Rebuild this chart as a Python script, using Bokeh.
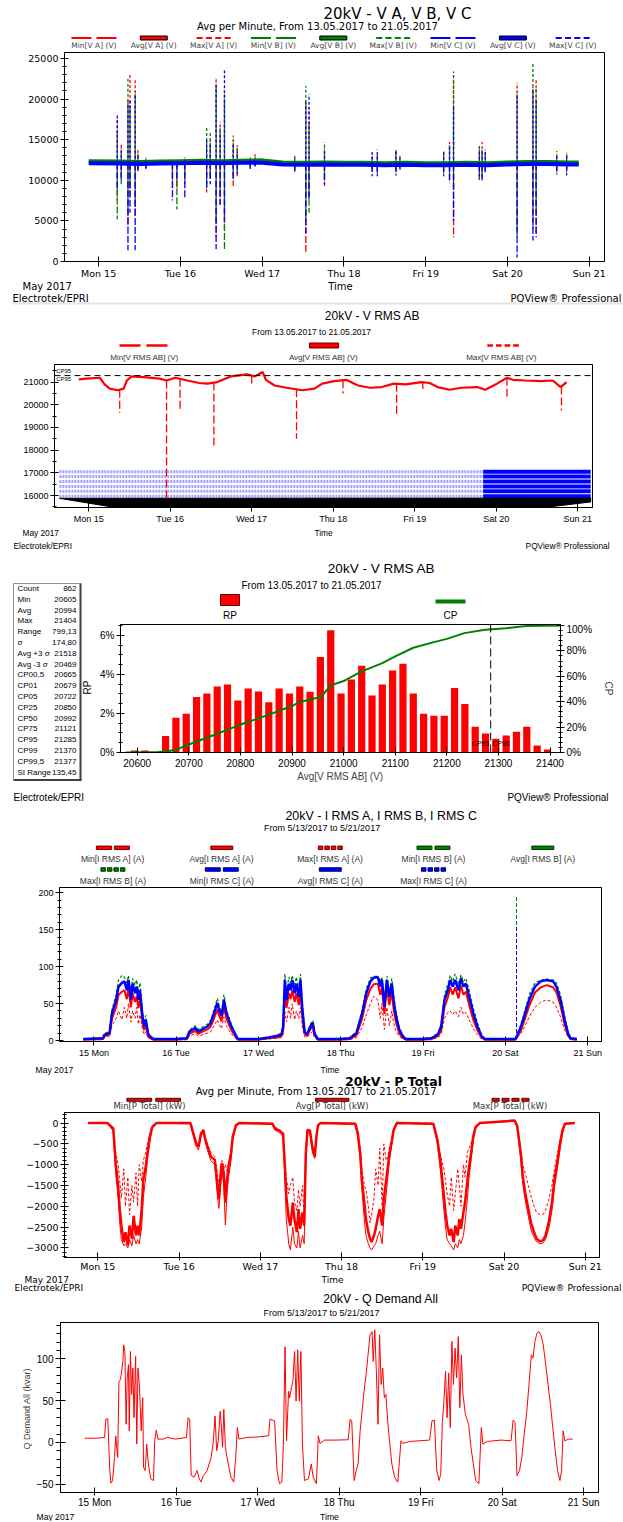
import numpy as np
from bokeh.plotting import figure
from bokeh.models import Range1d, FixedTicker, LinearAxis, Span
from bokeh.layouts import column, row
from bokeh.embed import file_html
from bokeh.resources import INLINE
from bokeh.core.properties import value

VERD = "DejaVu Sans"
ARIAL = "Liberation Sans"
RED, GREEN, BLUE = "#ff0000", "#008000", "#0000ff"
DARK = {RED: "#700000", GREEN: "#003800", BLUE: "#000070"}

# ---------------- shared axis data ----------------
DAY_TICKS = [15, 16, 17, 18, 19, 20, 21]
LABELS_WD = ["Mon 15", "Tue 16", "Wed 17", "Thu 18", "Fri 19", "Sat 20", "Sun 21"]
LABELS_DW = ["15 Mon", "16 Tue", "17 Wed", "18 Thu", "19 Fri", "20 Sat", "21 Sun"]

# ---------------- panel 1 : V A, V B, V C ----------------
V_TICKS = [0, 5000, 10000, 15000, 20000, 25000]
V_BASE_T = [14.88, 15.25, 15.5, 15.75, 16.0, 16.25, 16.5, 16.75, 17.0, 17.25, 17.5, 17.75, 18.0,
            18.25, 18.5, 18.75, 19.0, 19.25, 19.5, 19.75, 20.0, 20.25, 20.5, 20.75, 20.87]
VA_AVG = [12200, 12150, 12100, 12150, 12200, 12250, 12200, 12250, 12300, 12050, 12000, 12050, 12000,
          12000, 11950, 12000, 11950, 11950, 12000, 11950, 12050, 12100, 12100, 12050, 12050]
VB_AVG = [12350, 12300, 12250, 12300, 12350, 12400, 12350, 12400, 12450, 12200, 12150, 12200, 12150,
          12150, 12100, 12150, 12100, 12100, 12150, 12100, 12200, 12250, 12250, 12200, 12200]
VC_AVG = [12100, 12050, 12000, 12050, 12100, 12150, 12100, 12150, 12150, 11950, 11900, 11950, 11900,
          11900, 11850, 11900, 11850, 11850, 11900, 11850, 11950, 12000, 12000, 11950, 11950]
V_SPIKE_T = [15.228, 15.277, 15.359, 15.384, 15.447, 15.481, 15.578, 15.903, 15.957, 16.054, 16.321,
             16.365, 16.437, 16.486, 16.539, 16.646, 16.695, 16.855, 16.913, 17.398, 17.534, 17.573,
             17.762, 18.345, 18.408, 18.636, 18.685, 19.219, 19.291, 19.340, 19.656, 19.689, 19.728,
             20.117, 20.311, 20.350, 20.602, 20.723]
VA_MAX = [17500, 14500, 20000, 23000, 22500, 13700, 12800, 12500, 12400, 12600, 14000, 15000, 22700,
          17200, 21000, 15500, 14300, 12900, 13200, 13000, 20000, 19000, 14000, 13000, 13000, 13600,
          12800, 13600, 14700, 22500, 14300, 14700, 13500, 22000, 21500, 22500, 13300, 13400]
VB_MAX = [16000, 13500, 22500, 19000, 21000, 13500, 12700, 12400, 12500, 12500, 16500, 16000, 21500,
          16500, 20000, 15000, 14000, 12800, 12900, 12800, 21600, 17000, 14700, 12900, 13200, 13900,
          13000, 13300, 14500, 23400, 14200, 14000, 13200, 21000, 24500, 21500, 13600, 13200]
VC_MAX = [18000, 14000, 19500, 20000, 20500, 13000, 12600, 12300, 12300, 12800, 15000, 14500, 22000,
          16000, 23500, 14500, 13500, 12700, 12800, 12700, 19500, 20600, 13500, 13700, 13800, 13500,
          12700, 13500, 14200, 19300, 13800, 13500, 13800, 20500, 21000, 20000, 13200, 13000]
VA_MIN = [7500, 10500, 4300, 8000, 5500, 11000, 11600, 9000, 9000, 9500, 8500, 10000, 3000, 7000,
          4000, 9300, 10500, 11500, 11800, 11000, 1200, 8000, 9300, 11000, 11000, 10800, 11500,
          11000, 9700, 3000, 9900, 10300, 11000, 4000, 5000, 3500, 11000, 10800]
VB_MIN = [5200, 9500, 6000, 9000, 7000, 11200, 11500, 10000, 6400, 10000, 9500, 10500, 5000, 8000,
          1300, 10500, 11000, 11600, 11800, 11200, 5000, 6000, 10000, 11500, 10800, 11000, 11600,
          10800, 10500, 9000, 10000, 10500, 11200, 3000, 4000, 6000, 11000, 11200]
VC_MIN = [9000, 10000, 1400, 6000, 1400, 11000, 11400, 7500, 10000, 7700, 9000, 9500, 1500, 7000,
          5000, 10000, 10800, 11400, 11700, 11000, 3500, 7500, 9500, 10500, 10500, 10600, 11300,
          10500, 10000, 5000, 10500, 10000, 10900, 500, 2600, 3000, 10700, 10600]
P1_LEG = ["Min[V A] (V)", "Avg[V A] (V)", "Max[V A] (V)", "Min[V B] (V)", "Avg[V B] (V)",
          "Max[V B] (V)", "Min[V C] (V)", "Avg[V C] (V)", "Max[V C] (V)"]

# ---------------- panel 2 : V RMS AB time series ----------------
VAB_TICKS = [16000, 17000, 18000, 19000, 20000, 21000]
VAB_T = [14.878, 14.966, 15.136, 15.195, 15.258, 15.356, 15.429, 15.468, 15.527, 15.673, 15.868,
         15.955, 16.063, 16.209, 16.355, 16.453, 16.575, 16.745, 16.940, 17.038, 17.135, 17.174,
         17.281, 17.428, 17.623, 17.769, 17.866, 18.013, 18.159, 18.305, 18.451, 18.598, 18.744,
         18.890, 19.085, 19.183, 19.280, 19.426, 19.573, 19.768, 19.865, 20.011, 20.133, 20.206,
         20.353, 20.548, 20.694, 20.791, 20.864]
VAB_AVG = [21120, 21150, 21190, 20900, 20710, 20640, 20710, 21070, 21250, 21220, 21150, 21070, 21190,
           21070, 20960, 20930, 21000, 21250, 21340, 21250, 21440, 21100, 20850, 20750, 20640, 20710,
           20930, 21040, 21100, 20850, 20750, 20780, 20930, 20900, 21000, 20960, 20780, 20660, 20750,
           20780, 20660, 20930, 21190, 21100, 21070, 21040, 21070, 20780, 21000]
VAB_DIP_T = [15.380, 15.955, 16.121, 16.536, 17.000, 17.550, 18.120, 18.778, 19.100, 20.133, 20.801]
VAB_DIP_V = [19650, 15830, 19800, 18100, 20900, 18500, 20500, 19600, 20700, 20300, 19750]
EVENT_LEVELS = [17050, 16840, 16620, 16400, 16190, 15970]
EVENT_SPAN = [14.64, 19.84, 21.16]
FAN_X = [14.64, 15.30, 20.60, 21.16, 21.16]
FAN_Y = [15880, 15490, 15480, 15720, 15890]
CP95_VALUE = 21285

# ---------------- panel 3 : histogram ----------------
RP_BIN = [20595, 20615, 20635, 20655, 20675, 20695, 20715, 20735, 20755, 20775, 20795, 20815, 20835,
          20855, 20875, 20895, 20915, 20935, 20955, 20975, 20995, 21015, 21035, 21055, 21075, 21095,
          21115, 21135, 21155, 21175, 21195, 21215, 21235, 21255, 21275, 21295, 21315, 21335, 21355,
          21375, 21395]
RP_PCT = [0.1, 0.1, 0.0, 0.85, 1.78, 1.98, 2.84, 3.03, 3.38, 3.49, 2.67, 3.28, 3.13, 2.58, 3.28, 3.03,
          3.38, 3.11, 4.9, 6.26, 3.03, 3.74, 4.44, 2.92, 3.49, 4.2, 4.55, 3.03, 1.98, 1.88, 1.88, 3.3,
          2.48, 1.32, 0.97, 0.70, 0.87, 1.06, 1.32, 0.36, 0.15]
CP_X = [20578, 20600, 20640, 20660, 20680, 20700, 20750, 20800, 20850, 20900, 20915, 20956, 20975,
        21000, 21035, 21075, 21100, 21135, 21175, 21200, 21234, 21274, 21315, 21354, 21420]
CP_Y = [0, 0.2, 0.4, 1, 3, 6.3, 14, 22, 29, 36.6, 39.8, 43.7, 52.9, 56.3, 63.9, 70.4, 75.7, 82.5, 86.9,
        89.5, 94, 96.6, 97.9, 99.7, 100]
RP_X_TICKS = [20600, 20700, 20800, 20900, 21000, 21100, 21200, 21300, 21400]
RP_TICKS = [0, 2, 4, 6]
RP_TICK_LABELS = ["0%", "2%", "4%", "6%"]
CP_TICKS = [0, 20, 40, 60, 80, 100]
CP_TICK_LABELS = ["0%", "20%", "40%", "60%", "80%", "100%"]
STAT_NAMES = ["Count", "Min", "Avg", "Max", "Range", "σ", "Avg +3 σ", "Avg -3 σ", "CP00,5", "CP01",
              "CP05", "CP25", "CP50", "CP75", "CP95", "CP99", "CP99,5", "SI Range"]
STAT_VALUES = ["862", "20605", "20994", "21404", "799,13", "174,80", "21518", "20469", "20665",
               "20679", "20722", "20850", "20992", "21121", "21285", "21370", "21377", "135,45"]

# ---------------- panel 4 : I RMS ----------------
I_TICKS = [0, 50, 100, 150, 200]
I_T = [14.87, 15.11, 15.13, 15.19, 15.22, 15.24, 15.27, 15.30, 15.34, 15.37, 15.40, 15.42, 15.45, 15.47,
       15.50, 15.52, 15.54, 15.56, 15.59, 15.61, 15.63, 15.66, 15.72,
       15.99, 16.13, 16.16, 16.23, 16.27, 16.30, 16.38, 16.42, 16.46, 16.50, 16.52, 16.55, 16.58, 16.61,
       16.64, 16.67, 16.71, 16.75,
       17.00, 17.12, 17.22, 17.28, 17.30, 17.32, 17.34, 17.37, 17.39, 17.41, 17.44, 17.46, 17.49, 17.51,
       17.53, 17.56, 17.59, 17.63, 17.66, 17.68, 17.72,
       17.99, 18.11, 18.19, 18.26, 18.31, 18.36, 18.40, 18.45, 18.48, 18.50, 18.53, 18.56, 18.59, 18.62,
       18.64, 18.67, 18.71, 18.75, 18.79,
       18.98, 19.10, 19.18, 19.22, 19.26, 19.30, 19.33, 19.36, 19.39, 19.43, 19.46, 19.49, 19.52, 19.56,
       19.61, 19.66, 19.71, 19.75,
       20.00, 20.12, 20.14, 20.19, 20.24, 20.29, 20.36, 20.43, 20.50, 20.58, 20.62, 20.67, 20.72, 20.76,
       20.79, 20.87]
I_AVG_C = [2, 3, 8, 10, 37, 44, 55, 73, 78, 80, 68, 82, 55, 77, 64, 73, 55, 68, 33, 19, 28, 8, 2,
           2, 3, 12, 17, 12, 14, 19, 24, 37, 51, 42, 33, 55, 37, 28, 19, 10, 2,
           2, 4, 6, 8, 19, 82, 55, 77, 68, 82, 64, 77, 59, 82, 46, 12, 8, 19, 24, 10, 2,
           2, 3, 10, 37, 64, 80, 85, 86, 73, 82, 46, 82, 59, 77, 55, 33, 15, 6, 2,
           2, 3, 8, 19, 55, 68, 82, 73, 82, 68, 84, 73, 77, 59, 37, 19, 6, 2,
           2, 2, 6, 19, 37, 55, 73, 80, 82, 80, 73, 55, 28, 10, 3, 2]
I_AVG_A = [1, 2, 6, 8, 30, 36, 45, 62, 66, 68, 56, 70, 45, 64, 52, 60, 44, 56, 26, 14, 22, 5, 1,
           1, 2, 9, 13, 9, 11, 15, 19, 30, 42, 34, 26, 45, 30, 22, 14, 7, 1,
           1, 3, 4, 6, 14, 68, 44, 64, 56, 68, 52, 64, 48, 68, 36, 9, 6, 15, 19, 7, 1,
           1, 2, 7, 30, 55, 70, 76, 77, 62, 72, 36, 72, 48, 66, 44, 25, 10, 4, 1,
           1, 2, 6, 14, 45, 58, 72, 62, 72, 57, 74, 62, 66, 48, 28, 14, 4, 1,
           1, 1, 4, 14, 30, 47, 65, 72, 75, 72, 65, 47, 22, 7, 2, 1]
I_MAX_B = [2, 4, 10, 12, 42, 50, 62, 82, 88, 86, 78, 88, 65, 84, 75, 82, 66, 78, 40, 24, 34, 10, 2,
           2, 4, 14, 20, 15, 17, 22, 28, 42, 57, 48, 38, 62, 42, 32, 22, 12, 2,
           2, 5, 7, 10, 24, 90, 66, 86, 78, 88, 74, 86, 70, 90, 55, 15, 10, 22, 27, 12, 2,
           2, 4, 12, 42, 70, 85, 87, 87, 80, 86, 55, 87, 68, 84, 64, 40, 18, 8, 2,
           2, 4, 10, 22, 62, 76, 88, 80, 90, 76, 89, 80, 84, 68, 44, 24, 8, 2,
           2, 2, 8, 22, 42, 62, 78, 82, 83, 82, 78, 62, 33, 12, 4, 2]
I_MIN_A = [1, 1, 4, 6, 20, 24, 30, 40, 28, 45, 30, 50, 25, 40, 30, 45, 22, 35, 15, 8, 12, 3, 1,
           1, 1, 6, 9, 6, 7, 10, 12, 20, 28, 22, 16, 32, 20, 14, 9, 4, 1,
           1, 2, 3, 4, 8, 40, 25, 45, 30, 50, 28, 40, 30, 45, 20, 5, 4, 10, 12, 4, 1,
           1, 1, 4, 18, 35, 50, 60, 55, 30, 50, 15, 45, 20, 40, 25, 12, 6, 2, 1,
           1, 1, 4, 8, 30, 38, 40, 35, 40, 32, 45, 35, 38, 28, 16, 8, 2, 1,
           1, 1, 3, 10, 20, 32, 45, 52, 55, 52, 45, 32, 14, 5, 1, 1]
I_SPIKE_T = [20.135]
I_SPIKE_B = [197]
I_SPIKE_C = [155]
P4_LEG = ["Min[I RMS A] (A)", "Avg[I RMS A] (A)", "Max[I RMS A] (A)", "Min[I RMS B] (A)",
          "Avg[I RMS B] (A)", "Max[I RMS B] (A)", "Min[I RMS C] (A)", "Avg[I RMS C] (A)",
          "Max[I RMS C] (A)"]

# ---------------- panel 5 : P Total ----------------
P_TICKS = [-3000, -2500, -2000, -1500, -1000, -500, 0]
P_T = [14.88, 15.12,
       15.19, 15.22, 15.25, 15.27, 15.29, 15.32, 15.34, 15.37, 15.39, 15.42, 15.44, 15.47, 15.49, 15.51,
       15.54, 15.56, 15.59, 15.61, 15.64, 15.67, 15.72,
       16.14, 16.17, 16.21, 16.24, 16.27, 16.30, 16.32, 16.35, 16.39, 16.44, 16.47, 16.49, 16.52, 16.53,
       16.55, 16.57, 16.59, 16.61, 16.64, 16.66, 16.70, 16.74,
       17.15, 17.18, 17.23, 17.28, 17.30, 17.32, 17.35, 17.37, 17.40, 17.42, 17.45, 17.47, 17.49, 17.52,
       17.54, 17.56, 17.58, 17.61, 17.64, 17.67, 17.69, 17.71, 17.74,
       18.17, 18.20, 18.23, 18.25, 18.28, 18.30, 18.33, 18.35, 18.37, 18.40, 18.42, 18.45, 18.47, 18.50,
       18.52, 18.55, 18.57, 18.59, 18.62, 18.64, 18.68,
       19.13, 19.18, 19.22, 19.26, 19.28, 19.30, 19.33, 19.35, 19.38, 19.40, 19.43, 19.45, 19.47, 19.50,
       19.52, 19.55, 19.57, 19.60, 19.62, 19.65, 19.70,
       20.13, 20.16, 20.18, 20.21, 20.23, 20.26, 20.30, 20.33, 20.37, 20.40, 20.44, 20.48, 20.51, 20.55,
       20.59, 20.62, 20.66, 20.69, 20.72, 20.75, 20.87]
P_AVG = [0, 0,
         -134, -963, -1516, -2068, -2463, -2858, -2621, -2937, -2463, -2779, -2226, -2700, -2463, -2700,
         -2068, -1358, -1042, -726, -332, -95, 0,
         0, -213, -489, -568, -253, -174, -371, -568, -805, -884, -1437, -1832, -1042, -963, -1200, -1910,
         -1358, -1042, -726, -332, -55, 0,
         -16, -134, -174, -253, -963, -1753, -2305, -2463, -1910, -2305, -2621, -2068, -2542, -2147, -2463,
         -726, -174, -174, -568, -805, -332, -55, 0,
         -16, -253, -726, -1358, -1910, -2305, -2621, -2779, -2858, -2700, -2542, -2226, -2068, -2463,
         -1832, -1358, -1042, -726, -411, -174, 0,
         -16, -411, -963, -1753, -2147, -2463, -2700, -2542, -2858, -2463, -2700, -2305, -2542, -2147,
         -1910, -1358, -1042, -647, -332, -95, 0,
         60, -55, -332, -805, -1279, -1674, -2068, -2384, -2621, -2779, -2842, -2819, -2700, -2384, -1910,
         -1358, -884, -489, -174, -16, 0]
P_MAX = [0, 0,
         -100, -700, -1000, -1400, -1800, -1100, -2000, -1300, -2200, -1500, -1900, -1200, -2000, -1000,
         -1400, -900, -700, -500, -250, -60, 0,
         0, -180, -420, -500, -220, -150, -320, -500, -700, -800, -1200, -1500, -950, -900, -1100, -1000,
         -1150, -950, -650, -300, -40, 0,
         0, -100, -150, -220, -800, -1300, -1700, -1500, -1300, -1900, -2100, -1600, -2000, -1500, -2200,
         -650, -150, -150, -500, -750, -300, -40, 0,
         0, -200, -600, -1100, -1500, -1600, -2000, -2400, -2200, -1800, -1100, -1500, -600, -2000, -500,
         -900, -800, -600, -350, -150, 0,
         0, -350, -800, -1100, -1400, -1700, -2000, -1300, -2100, -1700, -1100, -1500, -2000, -1000, -1300,
         -700, -600, -450, -260, -80, 0,
         70, -40, -280, -700, -1000, -1200, -1500, -1750, -2000, -2150, -2200, -2200, -2100, -1850, -1500,
         -1100, -700, -400, -150, -10, 0]
P_MIN = [0, 0,
         -200, -1200, -1800, -2400, -2800, -2950, -2900, -3000, -2800, -2950, -2700, -2900, -2800, -2900,
         -2500, -1800, -1300, -900, -450, -130, 0,
         -20, -260, -560, -650, -300, -220, -430, -650, -900, -1000, -1700, -2050, -1300, -1150, -1500,
         -2450, -1700, -1300, -900, -420, -80, 0,
         -30, -170, -220, -320, -1200, -2300, -2900, -3050, -2500, -2900, -3000, -2600, -3000, -2700,
         -2900, -900, -220, -220, -700, -850, -400, -80, 0,
         -30, -320, -900, -1600, -2300, -2700, -2900, -3000, -3050, -2950, -2900, -2700, -2600, -2900,
         -2300, -1700, -1300, -900, -500, -220, 0,
         -30, -500, -1200, -2100, -2500, -2800, -2900, -2950, -3050, -2900, -3000, -2800, -2900, -2700,
         -2400, -1800, -1300, -800, -420, -130, 0,
         50, -70, -400, -950, -1450, -1850, -2250, -2550, -2750, -2850, -2900, -2880, -2800, -2550, -2100,
         -1550, -1050, -600, -220, -30, 0]
P5_LEG = ["Min[P Total] (kW)", "Avg[P Total] (kW)", "Max[P Total] (kW)"]

# ---------------- panel 6 : Q Demand ----------------
Q_TICKS = [-50, 0, 50, 100]
Q_T = [14.878, 15.014, 15.121, 15.136, 15.160, 15.185, 15.199, 15.219, 15.243, 15.258, 15.273, 15.282,
       15.297, 15.316, 15.331, 15.346, 15.355, 15.370, 15.385, 15.399, 15.414, 15.424, 15.438, 15.453,
       15.468, 15.482, 15.502, 15.516, 15.531, 15.550, 15.570, 15.589, 15.599, 15.619, 15.638, 15.658,
       15.687, 15.721, 15.736, 15.755, 15.775, 15.843, 15.892, 15.990,
       16.126, 16.145, 16.165, 16.184, 16.218, 16.257, 16.282, 16.306, 16.331, 16.355, 16.379, 16.404,
       16.428, 16.452, 16.477, 16.496, 16.516, 16.540, 16.555, 16.569, 16.584, 16.604, 16.623, 16.647,
       16.672, 16.706, 16.730, 16.750, 16.769, 16.867,
       17.013, 17.135, 17.150, 17.208, 17.237, 17.267, 17.296, 17.315, 17.335, 17.354, 17.379, 17.393,
       17.413, 17.432, 17.452, 17.471, 17.491, 17.510, 17.530, 17.549, 17.574, 17.623, 17.657, 17.681,
       17.720, 17.744, 17.764, 17.818, 17.940,
       18.110, 18.135, 18.154, 18.183, 18.208, 18.232, 18.257, 18.281, 18.305, 18.330, 18.354, 18.378,
       18.403, 18.417, 18.437, 18.456, 18.476, 18.495, 18.515, 18.534, 18.554, 18.573, 18.598, 18.622,
       18.646, 18.680, 18.719, 18.758, 18.778, 18.866,
       19.109, 19.139, 19.168, 19.197, 19.226, 19.246, 19.266, 19.285, 19.305, 19.324, 19.344, 19.363,
       19.383, 19.402, 19.422, 19.441, 19.461, 19.480, 19.500, 19.519, 19.548, 19.588, 19.617, 19.646,
       19.675, 19.714, 19.744, 19.763, 19.817, 19.987,
       20.109, 20.134, 20.158, 20.182, 20.212, 20.241, 20.270, 20.299, 20.329, 20.358, 20.378, 20.402,
       20.426, 20.451, 20.475, 20.504, 20.534, 20.563, 20.592, 20.621, 20.651, 20.680, 20.709, 20.729,
       20.748, 20.768, 20.817, 20.866]
Q_V = [5.1, 5, 6, 27.7, 28.5, -33.6, -48.6, -45.5, -17.8, 7.9, -9.9, -17.8,
       73, 75, 85, 96.8, 116.6, 108.7, 21.7, 77, 92.9, 13.8, 108.7, 57.3,
       88.9, 29.6, 102.8, -2, 88.9, 65.2, 13.8, 53.4, -29.6, -33.6, -2, -25.7,
       -43.5, -45.5, 2, 14.6, 4, 4, 6, 4,
       6, 29.6, 27.7, -39.5, -41.5, -33.6, -43.5, -47.4, -39.5, -37.5, -33.6, -25.7,
       -17.8, -2, 31.6, -9.9, 2, 37.5, 17.8, -5.9, 39.5, -5.9, -17.8, -29.6,
       -41.5, -47.4, -17.8, 17.8, 4, 6,
       6.7, 7.9, 27.7, 25.7, -33.6, -49.4, -47.4, -4, 114.2, 2, 61.3, 53.4,
       65.2, 73.1, 108.7, 49.4, 110.7, 49.4, 108.7, -2, -45.5, -43.5, -25.7, -41.5,
       -49.4, 7.9, -1.2, 2.8, 2.8,
       3.2, 27.7, 25.7, -45.5, -33.6, -25.7, 13.8, 37.5, 61.3, 81, 104.7, 128.5,
       132.4, 96.8, 134.4, 85, 21.7, 128.5, 69.2, 88.9, 53.4, 57.3, 21.7, -2,
       -25.7, -41.5, -47.4, 2, -1.2, 1.2,
       2.8, 25.7, 26.5, -33.6, -45.5, -37.5, 23.7, 49.4, 85, 29.6, 83, 17.8,
       120.6, 69.2, 112.6, 77.1, 126.5, 41.5, 104.7, 57.3, 33.6, 21.7, -5.9, -25.7,
       -45.5, -49.4, 17.8, -2, 1.2, 2.8,
       2, 26.5, 23.7, -39.5, -33.6, -17.8, 9.9, 33.6, 69.2, 104.7, 100.8, 120.6,
       130.4, 132.4, 128.5, 116.6, 92.9, 69.2, 45.5, 17.8, -9.9, -33.6, -45.5, -33.6,
       13.8, 2, 4, 4]

assert len(I_T) == len(I_AVG_C) == len(I_AVG_A) == len(I_MAX_B) == len(I_MIN_A)
assert len(P_T) == len(P_AVG) == len(P_MAX) == len(P_MIN)
assert len(Q_T) == len(Q_V)
assert len(VAB_T) == len(VAB_AVG)


# ================= helpers =================
class Sheet:
    """A plain drawing area positioned in page pixels (x0, y0 = its top-left corner)."""
    def __init__(self, x0, y0, w, h):
        self.x0 = x0
        self.y1 = y0 + h
        p = figure(width=w, height=h, x_range=Range1d(0, w), y_range=Range1d(0, h),
                   x_axis_location=None, y_axis_location=None, toolbar_location=None,
                   output_backend="svg", title=None, min_border=0)
        p.frame_align = False
        p.grid.visible = False
        p.outline_line_color = None
        self.p = p

    def text(self, x, y, s, size, font, align="left", color="black", baseline="middle", angle=0.0,
             style="normal"):
        self.p.text(x=[x - self.x0], y=[self.y1 - y], text=[s], text_font=value(font),
                    text_font_size=f"{size}px", text_align=align, text_baseline=baseline,
                    text_color=color, angle=angle, text_font_style=style)

    def seg(self, xa, ya, xb, yb, color, width, dash="solid"):
        self.p.segment(x0=[xa - self.x0], y0=[self.y1 - ya], x1=[xb - self.x0], y1=[self.y1 - yb],
                       line_color=color, line_width=width, line_dash=dash)

    def box(self, xa, xb, ya, yb, fill, edge, lw=1.0):
        self.p.quad(left=[xa - self.x0], right=[xb - self.x0], top=[self.y1 - ya],
                    bottom=[self.y1 - yb], fill_color=fill, line_color=edge, line_width=lw)


def dash_sample(s, cx, y, color, total, n, gap, lw):
    w = (total - gap * (n - 1)) / n
    for k in range(n):
        a = cx - total / 2 + k * (w + gap)
        s.seg(a, y, a + w, y, color, lw)


def bar_sample(s, cx, y, color, edge, total, n, gap, h):
    w = (total - gap * (n - 1)) / n
    for k in range(n):
        a = cx - total / 2 + k * (w + gap)
        s.box(a, a + w, y - h / 2, y + h / 2, color, edge)


def make_plot(w, h, bl, br, bb, xr, yr):
    p = figure(width=w, height=h, x_range=Range1d(*xr), y_range=Range1d(*yr),
               toolbar_location=None, output_backend="svg", title=None,
               min_border_left=bl, min_border_right=br, min_border_top=1, min_border_bottom=bb)
    p.frame_align = False
    p.grid.visible = False
    p.outline_line_color = "black"
    p.background_fill_color = "white"
    return p


def style_axis(ax, font, size, tin=4, tout=4, mtin=2, mtout=2, standoff=2):
    ax.axis_line_color = "black"
    ax.major_tick_line_color = "black"
    ax.minor_tick_line_color = "black"
    ax.major_tick_in = tin
    ax.major_tick_out = tout
    ax.minor_tick_in = mtin
    ax.minor_tick_out = mtout
    ax.major_label_text_font = font
    ax.major_label_text_font_size = f"{size}px"
    ax.major_label_text_color = "black"
    ax.major_label_standoff = standoff


def day_axis(p, labels, font, size, tout=4, standoff=2):
    ax = p.xaxis[0]
    ax.ticker = FixedTicker(ticks=DAY_TICKS, minor_ticks=[])
    ax.major_label_overrides = dict(zip(DAY_TICKS, labels))
    style_axis(ax, font, size, 5, tout, 0, 0, standoff)


W = 623

# ================= panel 1 =================
h1 = Sheet(0, 0, W, 51)
h1.text(397, 13.5, "20kV - V A, V B, V C", 15, VERD, "center")
h1.text(317, 26, "Avg per Minute, From 13.05.2017 to 21.05.2017", 10, VERD, "center")
P1_COLORS = [RED, GREEN, BLUE]
for i, lab in enumerate(P1_LEG):
    cx = 93.4 + 59.85 * i
    c = P1_COLORS[i // 3]
    kind = i % 3
    if kind == 0:
        dash_sample(h1, cx, 37.5, c, 45, 2, 5, 2)
    elif kind == 1:
        h1.box(cx - 13.5, cx + 13.5, 35.5, 39.5, c, "black")
    else:
        dash_sample(h1, cx, 37.5, c, 34, 4, 3.3, 2)
    h1.text(cx, 45.3, lab, 7.5, VERD, "center", "#444444")

p1 = make_plot(W, 230, 64, 19, 18, (14.583, 21.186), (0, 25730))
day_axis(p1, LABELS_WD, VERD, 9.5, 5, 1)
p1.yaxis[0].ticker = FixedTicker(ticks=V_TICKS, minor_ticks=list(range(0, 26000, 1000)))
style_axis(p1.yaxis[0], VERD, 9.5, 4, 4, 2, 2, 2)
for avg, mx, mn, c in [(VA_AVG, VA_MAX, VA_MIN, RED), (VB_AVG, VB_MAX, VB_MIN, GREEN),
                       (VC_AVG, VC_MAX, VC_MIN, BLUE)]:
    base_at = np.interp(V_SPIKE_T, V_BASE_T, avg)
    p1.segment(x0=V_SPIKE_T, y0=base_at, x1=V_SPIKE_T, y1=mn, line_color=c, line_width=1.3,
               line_dash="7 2")
    p1.segment(x0=V_SPIKE_T, y0=base_at, x1=V_SPIKE_T, y1=mx, line_color=c, line_width=1.3,
               line_dash="3 2")
    p1.line(V_BASE_T, avg, line_color=c, line_width=4)

# ================= panel 2 =================
h2 = Sheet(0, 281, W, 82)
h2.text(22, 285.5, "May 2017", 10, VERD)
h2.text(340, 285.5, "Time", 10, VERD, "center")
h2.text(12, 297.5, "Electrotek/EPRI", 10, VERD)
h2.text(621, 297.5, "PQView® Professional", 10, VERD, "right")
h2.seg(12, 303, 623, 303, "#e4e4e4", 2)
h2.text(372, 315, "20kV - V RMS AB", 12, ARIAL, "center")
h2.text(311, 331, "From 13.05.2017 to 21.05.2017", 8.5, ARIAL, "center")
dash_sample(h2, 143, 345, RED, 48, 2, 6, 2.5)
h2.box(309, 338, 342.5, 347.5, RED, "#700000")
dash_sample(h2, 502.6, 345, RED, 31.5, 4, 3, 2.5)
h2.text(144, 357, "Min[V RMS AB] (V)", 8, ARIAL, "center", "#333333")
h2.text(323, 357, "Avg[V RMS AB] (V)", 8, ARIAL, "center", "#333333")
h2.text(501, 357, "Max[V RMS AB] (V)", 8, ARIAL, "center", "#333333")

p2 = make_plot(W, 163, 54, 31, 18, (14.580, 21.182), (15475, 21774))
day_axis(p2, LABELS_WD, ARIAL, 9, 4, 2)
p2.yaxis[0].ticker = FixedTicker(ticks=VAB_TICKS, minor_ticks=list(range(15500, 22000, 500)))
style_axis(p2.yaxis[0], ARIAL, 9, 4, 4, 2, 2, 2)
n_lv = len(EVENT_LEVELS)
p2.segment(x0=[EVENT_SPAN[0]] * n_lv, y0=EVENT_LEVELS, x1=[EVENT_SPAN[1]] * n_lv, y1=EVENT_LEVELS,
           line_color="#4040ff", line_alpha=0.5, line_width=3, line_dash="2 1")
p2.segment(x0=[EVENT_SPAN[1]] * n_lv, y0=EVENT_LEVELS, x1=[EVENT_SPAN[2]] * n_lv, y1=EVENT_LEVELS,
           line_color=BLUE, line_width=4)
p2.patch(FAN_X, FAN_Y, fill_color="black", line_color="black")
p2.add_layout(Span(location=CP95_VALUE, dimension="width", line_color="black", line_dash="6 4",
                   line_width=1))
p2.text(x=[14.60, 14.60], y=[21480, 21120], text=["CP95", "CP95"], text_font=value(ARIAL),
        text_font_size="6px", text_baseline="middle", text_color="black")
dip_base = np.interp(VAB_DIP_T, VAB_T, VAB_AVG)
p2.segment(x0=VAB_DIP_T, y0=dip_base, x1=VAB_DIP_T, y1=VAB_DIP_V, line_color=RED, line_width=1.3,
           line_dash="8 3")
p2.line(VAB_T, VAB_AVG, line_color=RED, line_width=2.2)

# ================= panel 3 =================
h3a = Sheet(0, 526, W, 52)
h3a.text(22, 532, "May 2017", 8.3, ARIAL)
h3a.text(323, 532, "Time", 8.3, ARIAL, "center")
h3a.text(13, 545.7, "Electrotek/EPRI", 8.3, ARIAL)
h3a.text(609, 545.7, "PQView® Professional", 8.3, ARIAL, "right")
h3a.text(381, 567.5, "20kV - V RMS AB", 13.5, ARIAL, "center")

t3 = Sheet(0, 578, 93, 227)
t3.box(13, 80, 583, 779, "white", "#909090")
t3.seg(80, 583, 80, 780, "#404040", 2)
t3.seg(13, 779.5, 81, 779.5, "#404040", 2)
for i, (nm, vl) in enumerate(zip(STAT_NAMES, STAT_VALUES)):
    yy = 588.0 + 10.8 * i
    t3.text(17, yy, nm, 8, ARIAL)
    t3.text(76, yy, vl, 8, ARIAL, "right")
t3.text(86.5, 687, "RP", 10, ARIAL, "center", angle=np.pi / 2)
t3.text(13, 797.3, "Electrotek/EPRI", 10, ARIAL)

h3b = Sheet(93, 578, 530, 45)
h3b.text(311, 585, "From 13.05.2017 to 21.05.2017", 10, ARIAL, "center")
h3b.box(220, 239, 594, 605, RED, "#600000")
h3b.text(229.5, 615, "RP", 10, ARIAL, "center")
h3b.seg(435, 601, 465, 601, GREEN, 4)
h3b.text(450, 615, "CP", 10, ARIAL, "center")

p3 = make_plot(530, 165, 27, 63, 36, (20567.6, 21420.3), (0, 6.56))
p3.extra_y_ranges = {"cp": Range1d(0, 100.8)}
p3.xaxis[0].ticker = FixedTicker(ticks=RP_X_TICKS, minor_ticks=[])
style_axis(p3.xaxis[0], ARIAL, 10, 5, 3, 0, 0, 3)
p3.xaxis[0].axis_label = "Avg[V RMS AB] (V)"
p3.xaxis[0].axis_label_text_font = ARIAL
p3.xaxis[0].axis_label_text_font_size = "10px"
p3.xaxis[0].axis_label_text_font_style = "normal"
p3.xaxis[0].axis_label_standoff = 1
p3.yaxis[0].ticker = FixedTicker(ticks=RP_TICKS, minor_ticks=[x / 2 for x in range(0, 14)])
p3.yaxis[0].major_label_overrides = dict(zip(RP_TICKS, RP_TICK_LABELS))
style_axis(p3.yaxis[0], ARIAL, 10, 4, 4, 2, 2, 2)
cp_axis = LinearAxis(y_range_name="cp",
                     ticker=FixedTicker(ticks=CP_TICKS, minor_ticks=list(range(0, 101, 4))),
                     axis_label="CP")
cp_axis.major_label_overrides = dict(zip(CP_TICKS, CP_TICK_LABELS))
style_axis(cp_axis, ARIAL, 10, 4, 4, 2, 2, 2)
cp_axis.axis_label_text_font = ARIAL
cp_axis.axis_label_text_font_size = "10px"
cp_axis.axis_label_text_font_style = "normal"
cp_axis.axis_label_standoff = 8
p3.add_layout(cp_axis, "right")
p3.vbar(x=RP_BIN, top=RP_PCT, width=14, bottom=0, fill_color=RED, line_color=None)
p3.line(CP_X, CP_Y, y_range_name="cp", line_color=GREEN, line_width=2)
p3.add_layout(Span(location=CP95_VALUE, dimension="height", line_color="black", line_dash="8 4",
                   line_width=1))
p3.text(x=[CP95_VALUE - 3, CP95_VALUE + 3], y=[0.45, 0.45], text=["CP95", "CP95"],
        text_align=["right", "left"], text_font=value(ARIAL), text_font_size="7px",
        text_baseline="middle", text_color="black")

f3 = Sheet(93, 788, 530, 17)
f3.text(608, 796.7, "PQView® Professional", 10, ARIAL, "right")

# ================= panel 4 =================
h4 = Sheet(0, 805, W, 81)
h4.text(381, 815, "20kV - I RMS A, I RMS B, I RMS C", 12.4, ARIAL, "center")
h4.text(321.6, 827.3, "From 5/13/2017 to 5/21/2017", 9, ARIAL, "center")
P4_COLORS = [RED, GREEN, BLUE]
P4_POS = [(112.4, 0), (221.3, 0), (329.8, 0), (433.0, 0), (542.3, 0),
          (112.4, 1), (221.3, 1), (329.8, 1), (433.0, 1)]
for i, lab in enumerate(P4_LEG):
    cx, rr = P4_POS[i]
    ys = 847.3 if rr == 0 else 869.0
    yl = 858.3 if rr == 0 else 880.0
    c = P4_COLORS[i // 3]
    kind = i % 3
    if kind == 0:
        bar_sample(h4, cx, ys, c, DARK[c], 33, 2, 3, 3.5)
    elif kind == 1:
        bar_sample(h4, cx, ys, c, DARK[c], 22, 1, 0, 3.5)
    else:
        bar_sample(h4, cx, ys, c, DARK[c], 24, 4, 2, 3.5)
    h4.text(cx, yl, lab, 8.5, ARIAL, "center", "#333333")

p4 = make_plot(W, 174, 59, 22, 18, (14.582, 21.168), (-1.35, 207.1))
day_axis(p4, LABELS_DW, ARIAL, 9, 4, 2)
p4.yaxis[0].ticker = FixedTicker(ticks=I_TICKS, minor_ticks=list(range(0, 210, 10)))
style_axis(p4.yaxis[0], ARIAL, 9, 4, 4, 2, 2, 2)
p4.line(I_T, I_MIN_A, line_color=RED, line_width=1, line_dash="3 2")
p4.line(I_T, I_AVG_A, line_color=RED, line_width=2)
p4.line(I_T, I_MAX_B, line_color=GREEN, line_width=1.2, line_dash="3 2")
p4.segment(x0=I_SPIKE_T, y0=[2], x1=I_SPIKE_T, y1=I_SPIKE_B, line_color=GREEN, line_width=1,
           line_dash="4 2")
p4.segment(x0=I_SPIKE_T, y0=[2], x1=I_SPIKE_T, y1=I_SPIKE_C, line_color=BLUE, line_width=1,
           line_dash="4 2")
p4.line(I_T, I_AVG_C, line_color=BLUE, line_width=2.5)

# ================= panel 5 =================
h5 = Sheet(0, 1060, W, 51)
h5.text(35, 1069.3, "May 2017", 8.6, ARIAL)
h5.text(329.5, 1069.3, "Time", 8.6, ARIAL, "center")
h5.text(393, 1081, "20kV - P Total", 12.5, VERD, "center", style="bold")
h5.text(315.6, 1091, "Avg per Minute, From 13.05.2017 to 21.05.2017", 10, VERD, "center")
P5_FILL, P5_EDGE = "#d01010", "#600000"
bar_sample(h5, 153.2, 1099.3, P5_FILL, P5_EDGE, 53.7, 2, 4, 3)
bar_sample(h5, 331.7, 1099.3, P5_FILL, P5_EDGE, 33.4, 1, 0, 3)
bar_sample(h5, 510.0, 1099.3, P5_FILL, P5_EDGE, 37, 4, 2.8, 3)
for cx, lab in zip([149, 331.7, 509.5], P5_LEG):
    h5.text(cx, 1105.8, lab, 8.5, VERD, "center", "#333333")

p5 = make_plot(W, 163, 64, 24, 15, (14.590, 21.175), (-3230, 254))
day_axis(p5, LABELS_WD, VERD, 9.5, 3, 0)
p5.yaxis[0].ticker = FixedTicker(ticks=P_TICKS, minor_ticks=list(range(-3200, 300, 100)))
style_axis(p5.yaxis[0], VERD, 9.5, 4, 4, 2, 2, 2)
p5.line(P_T, P_MIN, line_color=RED, line_width=1)
p5.line(P_T, P_MAX, line_color=RED, line_width=1, line_dash="3 2")
p5.line(P_T, P_AVG, line_color=RED, line_width=2.5)

# ================= panel 6 =================
h6 = Sheet(0, 1274, W, 47)
h6.text(24, 1279, "May 2017", 9, VERD)
h6.text(332, 1279, "Time", 9, VERD, "center")
h6.text(14, 1287.5, "Electrotek/EPRI", 9, VERD)
h6.text(621, 1287.5, "PQView® Professional", 9, VERD, "right")
h6.text(380.4, 1298, "20kV - Q Demand All", 12.3, ARIAL, "center")
h6.text(321, 1312.7, "From 5/13/2017 to 5/21/2017", 9, ARIAL, "center")

p6 = make_plot(W, 189, 60, 25, 16, (14.580, 21.182), (-59.8, 143.3))
day_axis(p6, LABELS_DW, ARIAL, 10, 3, 1)
p6.yaxis[0].ticker = FixedTicker(ticks=Q_TICKS, minor_ticks=list(range(-50, 150, 10)))
style_axis(p6.yaxis[0], ARIAL, 10, 5, 5, 0, 4, 2)
p6.yaxis[0].axis_label = "Q Demand All  (kvar)"
p6.yaxis[0].axis_label_text_font = ARIAL
p6.yaxis[0].axis_label_text_font_size = "9px"
p6.yaxis[0].axis_label_text_font_style = "normal"
p6.yaxis[0].axis_label_standoff = 2
p6.line(Q_T, Q_V, line_color=RED, line_width=1)

f6 = Sheet(0, 1510, W, 11)
f6.text(36, 1515.5, "May 2017", 8.6, ARIAL)
f6.text(329, 1515.5, "Time", 8.6, ARIAL, "center")

layout = column(
    h1.p, p1,
    h2.p, p2,
    h3a.p,
    row(t3.p, column(h3b.p, p3, f3.p)),
    h4.p, p4,
    h5.p, p5,
    h6.p, p6,
    f6.p,
)

open("out.html", "w").write(file_html(layout, INLINE))
